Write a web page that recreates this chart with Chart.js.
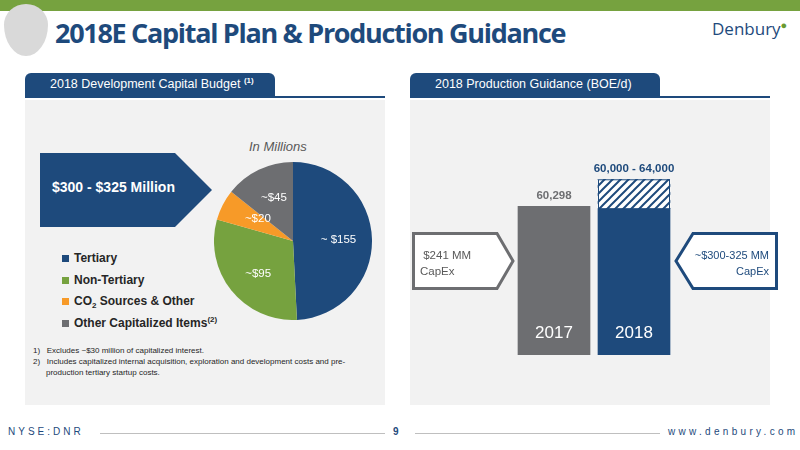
<!DOCTYPE html><html><head><meta charset="utf-8">
<script src="https://cdn.jsdelivr.net/npm/chart.js@4"></script>
<style>
body{margin:0;width:800px;height:450px;position:relative;background:#fff;font-family:"Liberation Sans",sans-serif;overflow:hidden}
.a{position:absolute;white-space:nowrap}
.lg div{height:21.5px}
sub,sup{line-height:0}
</style></head><body>
<div class="a" style="left:0;top:0;width:800px;height:11px;background:#76a23f"></div>
<div class="a" style="left:4px;top:4px;width:44px;height:52px;border-radius:50% 50% 50% 50%/40% 40% 60% 60%;background:#d9d9d9"></div>
<div class="a" style="left:55px;top:14px;font-size:27px;font-weight:bold;color:#1e4a7c;font-family:'Open Sans',sans-serif;letter-spacing:-1.3px">2018E Capital Plan &amp; Production Guidance</div>
<div class="a" style="left:712px;top:17px;font-size:17px;color:#1e4a7c;font-family:'Open Sans',sans-serif">Denbury<span style="color:#6a9a2f;font-size:11px;vertical-align:top">&#9679;</span></div>

<div class="a" style="left:25px;top:100px;width:360px;height:305px;background:#f2f2f2"></div>
<div class="a" style="left:25px;top:73px;width:250px;height:23px;background:#1e4a7c;border-radius:6px 6px 0 0;color:#fff;font-size:12.5px;line-height:23px;text-indent:25px">2018 Development Capital Budget <sup style="font-size:8px;font-weight:bold">(1)</sup></div>
<div class="a" style="left:25px;top:96px;width:360px;height:2px;background:#1e4a7c"></div>
<div class="a" style="left:410px;top:100px;width:360px;height:305px;background:#f2f2f2"></div>
<div class="a" style="left:410px;top:73px;width:250px;height:23px;background:#1e4a7c;border-radius:6px 6px 0 0;color:#fff;font-size:12.5px;line-height:23px;text-indent:25px">2018 Production Guidance (BOE/d)</div>
<div class="a" style="left:410px;top:96px;width:360px;height:2px;background:#1e4a7c"></div>

<svg class="a" style="left:40px;top:153px" width="175" height="74"><polygon points="0,0 135,0 172,37 135,74 0,74" fill="#1e4a7c"/></svg>
<div class="a" style="left:52px;top:179px;color:#fff;font-size:14px;font-weight:bold">$300 - $325 Million</div>
<div class="a" style="left:249px;top:139px;color:#595959;font-size:13px;font-style:italic">In Millions</div>

<div class="a lg" style="left:62px;top:248px;font-size:12px;color:#262626;font-weight:bold;line-height:21.5px">
<div><span style="display:inline-block;width:7px;height:7px;background:#1e4a7c;margin-right:5px"></span>Tertiary</div>
<div><span style="display:inline-block;width:7px;height:7px;background:#76a23f;margin-right:5px"></span>Non-Tertiary</div>
<div><span style="display:inline-block;width:7px;height:7px;background:#f79a28;margin-right:5px"></span>CO<sub style="font-size:8px">2</sub> Sources &amp; Other</div>
<div><span style="display:inline-block;width:7px;height:7px;background:#6d6e71;margin-right:5px"></span>Other Capitalized Items<sup style="font-size:8px">(2)</sup></div>
</div>
<div class="a" style="left:33px;top:345px;font-size:8px;color:#262626;line-height:11px;width:340px">
<div>1)&nbsp;&nbsp;&nbsp;Excludes ~$30 million of capitalized interest.</div>
<div>2)&nbsp;&nbsp;&nbsp;Includes capitalized internal acquisition, exploration and development costs and pre-</div>
<div style="padding-left:13px">production tertiary startup costs.</div>
</div>

<div class="a" style="left:214px;top:162px;width:158px;height:158px"><canvas id="pie"></canvas></div>
<div class="a" style="left:410px;top:150px;width:380px;height:205px"><canvas id="bar"></canvas></div>

<svg class="a" style="left:412px;top:232px" width="105" height="58"><polygon points="1.5,1.5 85,1.5 101,29 85,56.5 1.5,56.5" fill="#fff" stroke="#6d6e71" stroke-width="3"/></svg>
<div class="a" style="left:420px;top:247px;font-size:11.5px;color:#595959;line-height:16px">&nbsp;$241 MM<br>CapEx</div>
<svg class="a" style="left:674px;top:232px" width="104" height="58"><polygon points="102.5,1.5 19,1.5 2,29 19,56.5 102.5,56.5" fill="#fff" stroke="#1e4a7c" stroke-width="3"/></svg>
<div class="a" style="left:680px;top:247px;font-size:11px;color:#1e4a7c;line-height:16px;text-align:right;width:89px">~$300-325 MM<br>CapEx</div>

<div class="a" style="left:0;top:426px;width:800px;font-size:10px;color:#1e4a7c">
<span class="a" style="left:8px;letter-spacing:3px">NYSE:DNR</span>
<span class="a" style="left:100px;top:7px;width:285px;height:1px;background:#bfbfbf"></span>
<span class="a" style="left:393px;font-weight:bold">9</span>
<span class="a" style="left:415px;top:7px;width:245px;height:1px;background:#bfbfbf"></span>
<span class="a" style="left:668px;letter-spacing:3.3px">www.denbury.com</span>
</div>
<script>
const pieLabels=['Tertiary','Non-Tertiary','CO2 Sources & Other','Other Capitalized Items'];
const pieValues=[155,95,20,45];
const pieText=['~ $155','~$95','~$20','~$45'];
const pieColors=['#1e4a7c','#76a23f','#f79a28','#6d6e71'];
const barYears=['2017','2018'];
const baseValues=[60298,60000];
const rangeValues=[0,4000];
const barTopLabels=['60,298','60,000 - 64,000'];
const axisMin=40000, axisMax=68000;

const F='"Liberation Sans",sans-serif';
const pieLbl={id:'pl',afterDatasetsDraw(c){const x=c.ctx;c.getDatasetMeta(0).data.forEach((a,i)=>{const p=a.tooltipPosition();x.save();x.fillStyle='#fff';x.font='11.5px '+F;x.textAlign='center';x.textBaseline='middle';let dx=i==0?6:i==1?-4:i==3?-2:0;let dy=i==1?8:i==3?-8:i==2?-4:0;x.fillText(pieText[i],p.x+dx,p.y+dy);x.restore();});}};
new Chart(document.getElementById('pie'),{type:'pie',data:{labels:pieLabels,datasets:[{data:pieValues,backgroundColor:pieColors,borderWidth:0}]},options:{animation:false,responsive:true,maintainAspectRatio:false,plugins:{legend:{display:false},tooltip:{enabled:false}}},plugins:[pieLbl]});

const pc=document.createElement('canvas');pc.width=8;pc.height=8;const g=pc.getContext('2d');g.fillStyle='#fff';g.fillRect(0,0,8,8);g.strokeStyle='#1e4a7c';g.lineWidth=2;g.beginPath();g.moveTo(0,8);g.lineTo(8,0);g.moveTo(-2,2);g.lineTo(2,-2);g.moveTo(6,10);g.lineTo(10,6);g.stroke();
const hatch=g.createPattern(pc,'repeat');
const barLbl={id:'bl',afterDatasetsDraw(c){const x=c.ctx;const m0=c.getDatasetMeta(0),m1=c.getDatasetMeta(1);x.save();x.textAlign='center';
for(let i=0;i<2;i++){const b=m0.data[i];const top=i==1?m1.data[i].y:b.y;x.font='bold 11.5px '+F;x.fillStyle=i==0?'#6d6e71':'#1e4a7c';x.fillText(barTopLabels[i],b.x,top-7);x.font='17px '+F;x.fillStyle='#fff';x.fillText(barYears[i],b.x,c.scales.y.getPixelForValue(axisMin)-17);}
x.strokeStyle='#1e4a7c';x.lineWidth=1;const h=m1.data[1];x.strokeRect(h.x-h.width/2+0.5,h.y+0.5,h.width-1,h.base-h.y);x.restore();}};
new Chart(document.getElementById('bar'),{type:'bar',data:{labels:barYears,datasets:[{data:baseValues,backgroundColor:['#6d6e71','#1e4a7c'],barThickness:72},{data:rangeValues,backgroundColor:hatch,barThickness:72}]},
options:{animation:false,responsive:true,maintainAspectRatio:false,layout:{padding:{left:104,right:116}},datasets:{bar:{categoryPercentage:1,barPercentage:1}},
scales:{x:{display:false,stacked:true},y:{display:false,stacked:true,min:axisMin,max:axisMax}},plugins:{legend:{display:false},tooltip:{enabled:false}}},plugins:[barLbl]});
</script></body></html>
